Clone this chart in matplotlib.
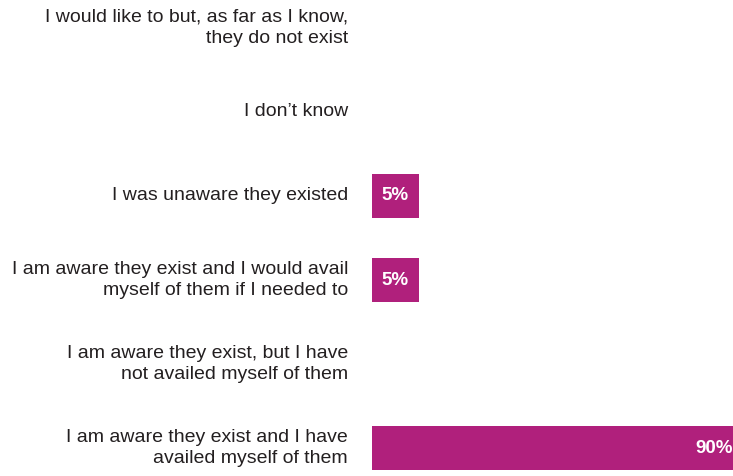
import matplotlib.pyplot as plt

categories = [
    'I would like to but, as far as I know,\nthey do not exist',
    'I don\u2019t know',
    'I was unaware they existed',
    'I am aware they exist and I would avail\nmyself of them if I needed to',
    'I am aware they exist, but I have\nnot availed myself of them',
    'I am aware they exist and I have\navailed myself of them',
]
values = [0, 0, 5, 5, 0, 90]
labels = ['', '', '5%', '5%', '', '90%']

color = '#B0207C'
min_width = 11.4  # small bars are widened so the label fits

fig = plt.figure(figsize=(7.33, 4.76), dpi=100)
ax = fig.add_axes([372 / 733, 0, 1 - 372 / 733, 1])

pos = list(range(len(categories)))
widths = [max(v, min_width) if v > 0 else 0 for v in values]
ax.barh(pos, widths, height=0.535, color=color)

for p, w, lab, v in zip(pos, widths, labels, values):
    if not lab:
        continue
    if v < min_width:
        ax.text(w / 2, p, lab, ha='center', va='center', color='white',
                fontsize=13.5, fontweight='bold', family='Liberation Sans')
    else:
        ax.annotate(lab, (w, p), xytext=(-6, 0), textcoords='offset pixels',
                    ha='right', va='center', color='white', annotation_clip=False,
                    fontsize=13.5, fontweight='bold', family='Liberation Sans')

for p, c in zip(pos, categories):
    ax.annotate(c, (0, p), xytext=(-24, 0), textcoords='offset pixels',
                ha='right', va='center', fontsize=14, color='#231F20',
                family='Liberation Sans', linespacing=1.38, annotation_clip=False)

ax.set_xlim(0, 88.5)
ax.set_ylim(5.333, -0.333)
ax.axis('off')

fig.savefig('out.png', dpi=100)
